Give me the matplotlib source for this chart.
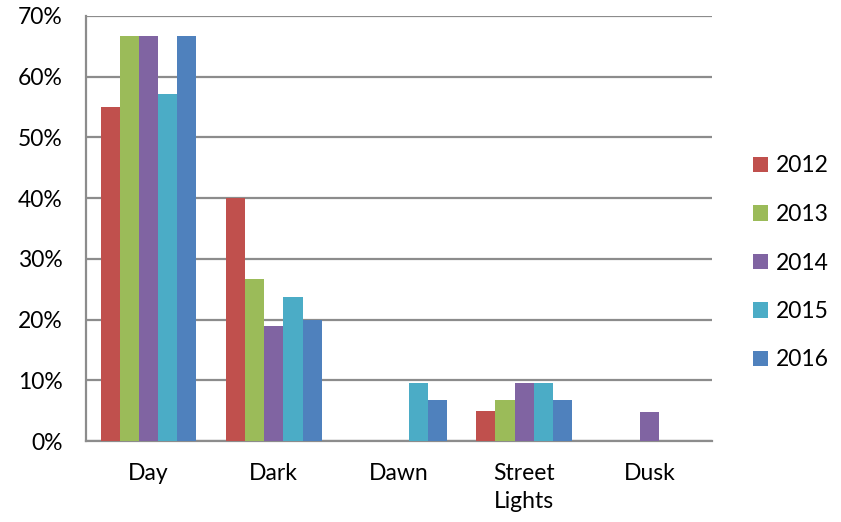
import numpy as np
import matplotlib.pyplot as plt
from matplotlib.patches import Patch

# share of collisions by light condition, per year
categories = ['Day', 'Dark', 'Dawn', 'Street\nLights', 'Dusk']
years = ['2012', '2013', '2014', '2015', '2016']
share_2012 = [55.0, 40.0, 0.0, 5.0, 0.0]
share_2013 = [66.7, 26.7, 0.0, 6.7, 0.0]
share_2014 = [66.7, 19.0, 0.0, 9.5, 4.8]
share_2015 = [57.1, 23.8, 9.5, 9.5, 0.0]
share_2016 = [66.7, 20.0, 6.7, 6.7, 0.0]
series = [share_2012, share_2013, share_2014, share_2015, share_2016]
colors = ['#C0504D', '#9BBB59', '#8064A2', '#4BACC6', '#4F81BD']

plt.rcParams['font.family'] = ['Lato', 'DejaVu Sans']

fig = plt.figure(figsize=(8.41, 5.22), dpi=100)
ax = fig.add_axes([86 / 841, 1 - 441 / 522, 626 / 841, 425 / 522])

x = np.arange(len(categories))
bar_w = 0.153
for i, (vals, col) in enumerate(zip(series, colors)):
    ax.bar(x + (i - 2) * bar_w, vals, width=bar_w, color=col, zorder=3)

ax.set_xlim(-0.5, len(categories) - 0.5)
ax.set_ylim(0, 70)
ax.set_yticks(np.arange(0, 71, 10))
ax.set_yticklabels(['%d%%' % v for v in range(0, 71, 10)], fontsize=16.5)
ax.set_xticks(x)
ax.set_xticklabels(categories, fontsize=16.5, linespacing=1.4)
ax.tick_params(axis='y', length=0, pad=17)
ax.tick_params(axis='x', length=0, pad=16)

grid_col = '#8C8C8C'
ax.yaxis.grid(True, color=grid_col, linewidth=1.6, zorder=0)
for side in ['top', 'right']:
    ax.spines[side].set_visible(False)
ax.spines['left'].set_color(grid_col)
ax.spines['left'].set_linewidth(1.6)
ax.spines['bottom'].set_color(grid_col)
ax.spines['bottom'].set_linewidth(1.6)

handles = [Patch(facecolor=c, edgecolor='none') for c in colors]
fig.legend(handles, years, loc='center left', bbox_to_anchor=(732 / 841, 1 - 263 / 522),
           frameon=False, fontsize=16.5, handlelength=0.65, handleheight=0.65,
           handletextpad=0.35, labelspacing=1.2)

fig.savefig('out.png', dpi=100)
